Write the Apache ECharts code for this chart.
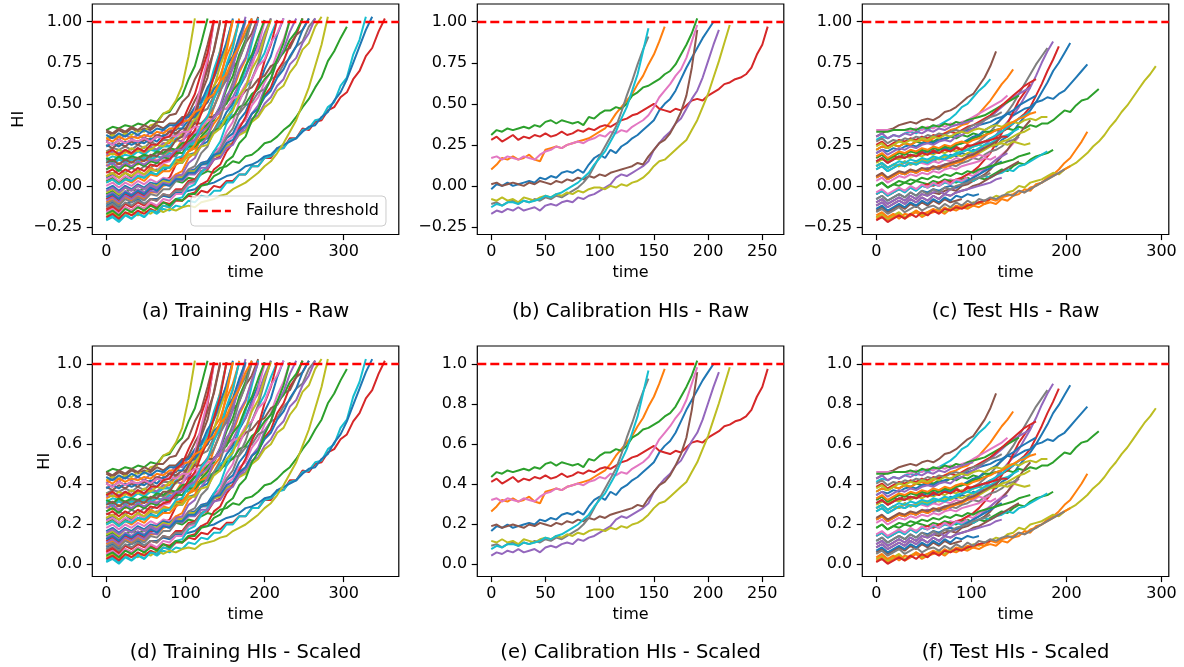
<!DOCTYPE html>
<html>
<head>
<meta charset="utf-8">
<script src="https://cdn.jsdelivr.net/npm/echarts@6/dist/echarts.min.js"></script>
<style>
  html, body { margin: 0; padding: 0; background: #fff; }
  #main { width: 1184px; height: 667px; }
</style>
</head>
<body>
<div id="main"></div>
<script>
// HI curves, in hundredths of HI, one array per unit, sampled every *_STEP time units
const TRAIN_STEP = 8;
const CALIB_STEP = 5;
const TEST_STEP = 6;

const trainHI = [
  [5,7,5,8,5,8,6,9,10,9,12,14,14,19,20,25,27,34,37,45,50,60,67,78,87,101],
  [18,20,18,21,19,22,20,23,22,26,26,31,32,38,40,47,51,61,67,79,88,101],
  [34,36,35,37,36,38,37,40,39,44,45,51,55,65,73,87,102],
  [-15,-13,-16,-13,-15,-12,-14,-11,-13,-10,-11,-8,-9,-6,-7,-3,-4,0,-1,3,3,7,7,12,12,17,17,23,23,29,29,35,34,39,40,46,48,54,57,65,70,79,84,94,102],
  [27,30,28,31,29,31,29,33,30,34,33,38,37,43,45,53,56,66,74,88,101],
  [33,31,34,32,35,33,35,34,37,35,38,38,42,42,47,47,53,55,61,64,72,77,87,93,103],
  [10,12,10,13,11,14,12,15,16,16,19,20,25,26,33,36,43,48,58,65,77,86,100],
  [21,23,22,24,22,25,23,27,25,28,28,32,32,37,38,45,47,55,59,68,74,85,92,102],
  [29,31,30,32,31,34,33,37,38,44,46,52,61,79,102],
  [-20,-18,-21,-17,-20,-16,-19,-15,-17,-14,-15,-12,-13,-9,-10,-6,-7,-3,-3,2,2,7,7,12,12,17,18,22,23,28,29,34,35,40,41,48,51,61,66,80,89,103],
  [-12,-10,-13,-11,-10,-8,-11,-8,-8,-6,-7,-4,-4,-3,-2,1,1,2,4,6,7,9,12,13,15,18,19,23,25,27,29,33,36,37,42,45,52,57,65,75,85,95,103],
  [13,11,14,12,15,13,16,15,18,17,21,22,28,31,39,45,57,67,83,101],
  [-5,-3,-6,-4,-2,-3,-2,0,-1,2,1,3,2,5,4,7,9,8,11,12,15,14,18,19,22,26,27,30,34,37,42,48,53,60,66,76,82,90,97],
  [-8,-6,-9,-5,-7,-4,-6,-2,-2,3,5,13,18,30,40,57,75,101],
  [19,21,20,22,20,23,21,24,22,26,24,28,27,32,31,36,37,43,44,51,54,62,67,76,82,93,102],
  [25,23,26,24,27,25,28,26,30,29,33,34,40,44,52,59,71,82,100],
  [0,2,-1,2,0,3,1,4,2,5,4,7,6,10,10,14,15,20,21,27,30,37,40,49,54,63,70,81,89,101],
  [16,14,17,15,17,16,18,17,20,19,22,21,25,24,28,28,32,33,37,38,43,44,49,51,57,59,65,67,74,78,85,88,97,102],
  [-18,-16,-19,-17,-16,-18,-15,-17,-14,-16,-14,-15,-13,-12,-13,-10,-9,-8,-6,-5,-2,0,2,5,8,12,15,20,26,33,40,50,60,73,86,103],
  [15,13,16,14,16,15,17,16,18,17,20,19,23,22,27,27,32,33,39,41,48,52,60,65,74,81,92,101],
  [-2,0,-3,0,-2,1,-1,2,1,4,3,6,5,9,10,14,15,21,23,29,32,40,45,54,60,71,79,92,102],
  [-10,-8,-11,-7,-9,-6,-8,-4,-4,0,1,7,9,17,20,30,35,48,57,72,84,102],
  [3,5,2,5,3,6,5,8,7,11,11,15,16,21,23,30,34,42,48,59,67,80,89,101],
  [-14,-12,-15,-11,-13,-10,-12,-8,-9,-5,-6,-2,-2,3,4,9,10,16,18,24,26,33,37,44,47,55,60,70,76,86,92,102],
  [-6,-4,-7,-3,-5,-2,-4,0,-2,2,1,5,4,8,8,13,13,18,19,25,26,32,34,41,43,50,54,61,65,74,78,87,93,102],
  [27,25,28,26,28,27,29,28,31,30,33,32,35,35,38,38,42,42,47,47,52,53,58,60,65,67,73,75,82,84,92,95,102],
  [-16,-14,-17,-13,-15,-12,-14,-10,-12,-8,-9,-5,-5,1,2,8,11,19,24,33,39,51,60,73,85,100],
  [9,7,10,8,11,9,12,11,14,14,18,18,23,25,31,34,42,48,58,65,77,87,101],
  [-4,-2,-5,-1,-3,0,-2,1,0,3,2,6,5,9,9,13,14,18,19,24,26,31,33,39,42,48,51,58,61,69,74,83,87,97,103],
  [16,18,17,19,18,21,19,22,21,24,24,29,30,37,40,50,57,71,82,101],
  [31,29,32,30,33,31,34,32,35,34,37,37,41,42,48,51,60,66,77,87,102],
  [6,8,5,8,6,9,7,11,9,13,12,16,16,21,23,29,31,38,43,52,58,69,77,90,101],
  [10,12,9,13,11,14,12,15,14,18,16,20,20,24,24,28,29,34,35,40,42,48,50,56,59,65,69,77,81,89,94,102],
  [-19,-17,-20,-16,-18,-15,-17,-14,-16,-12,-13,-9,-9,-5,-4,1,3,10,13,21,26,35,42,53,62,76,86,101],
  [-9,-7,-10,-6,-8,-5,-7,-3,-4,1,0,6,7,14,17,25,30,41,49,61,72,88,103],
  [34,32,35,33,36,34,37,35,39,39,43,44,51,55,65,72,86,101],
  [4,6,3,6,4,8,6,10,9,14,15,22,26,37,46,62,77,100],
  [-13,-11,-14,-10,-12,-9,-11,-8,-9,-5,-6,-3,-3,2,3,9,11,18,22,30,35,45,53,65,75,89,102],
  [21,19,22,20,23,21,24,22,25,24,28,27,32,34,41,44,53,60,73,84,101],
  [-21,-19,-22,-18,-20,-17,-19,-15,-16,-12,-13,-8,-7,-1,1,8,12,21,27,38,46,60,71,87,102],
  [24,26,24,27,25,27,26,29,27,31,30,35,35,40,42,48,51,59,63,73,79,91,101],
  [2,4,1,4,2,5,3,7,6,9,9,13,15,21,25,34,41,53,64,82,101],
  [17,15,18,16,18,17,19,18,21,20,23,22,26,27,31,32,38,40,47,50,58,63,73,80,91,101],
  [8,10,7,10,8,11,9,13,12,15,16,21,23,29,34,44,53,67,80,101],
  [-3,-1,-4,-1,-3,0,-2,1,-1,2,1,4,3,7,7,11,11,16,17,23,25,32,36,44,49,59,65,76,83,94,102],
  [14,16,13,16,14,17,15,19,18,22,22,28,30,38,44,56,66,83,101],
  [27,25,28,26,28,27,29,27,30,29,31,30,33,33,36,36,40,41,46,47,53,55,62,65,73,77,87,93,102],
  [-11,-9,-12,-8,-10,-7,-9,-5,-6,-2,-2,3,4,10,12,20,24,34,41,53,63,77,87,101],
  [6,8,5,8,6,9,7,10,9,12,11,15,14,19,19,24,25,32,35,42,46,55,60,71,78,91,101],
  [2,4,1,4,3,6,5,8,7,11,11,17,18,25,28,37,42,53,61,74,85,101],
  [-7,-5,-8,-4,-6,-3,-5,-1,-3,1,0,4,4,8,8,13,14,19,20,26,28,34,37,44,47,54,58,66,71,79,85,95,102],
  [29,27,30,28,30,29,31,30,33,32,35,35,39,40,45,47,53,56,64,68,78,85,95,102],
  [-17,-15,-18,-14,-16,-13,-15,-12,-14,-10,-12,-8,-9,-5,-5,0,1,6,8,15,18,26,30,40,46,57,65,77,87,101],
  [20,22,19,22,20,23,21,25,25,29,30,36,39,48,56,69,81,101],
  [12,14,11,14,12,15,13,16,15,18,18,22,22,26,28,33,36,42,46,55,60,71,78,90,101]
];

const calibHI = [
  [-2,1,0,2,0,1,2,3,2,5,4,6,5,8,9,8,10,8,13,17,19,17,22,20,24,26,29,31,34,37,40,46,50,53,58,65,72,78,84,90,95,100],
  [10,13,17,16,18,16,17,19,16,15,22,23,24,23,25,26,27,28,29,31,33,35,39,44,48,52,56,62,67,74,80,88,97],
  [31,34,33,35,34,35,36,35,37,36,39,40,38,40,39,38,39,37,42,41,44,46,46,48,47,50,55,57,60,61,63,65,68,70,74,80,86,93,102],
  [28,30,27,29,31,28,30,29,31,30,32,30,31,33,31,32,34,33,35,34,36,37,36,38,40,41,43,44,46,48,50,47,46,45,47,46,49,52,53,52,55,57,59,62,63,65,66,68,72,80,86,97],
  [-17,-15,-16,-14,-15,-13,-15,-14,-13,-15,-12,-11,-12,-10,-9,-10,-7,-8,-6,-5,-3,-1,1,5,7,6,8,10,12,15,22,26,30,33,38,41,47,53,58,66,76,86,95],
  [1,2,0,1,2,1,0,2,1,3,2,1,3,2,4,3,5,4,6,5,7,6,8,9,10,11,12,14,13,18,22,26,28,32,38,45,55,72,95],
  [17,18,16,18,17,16,18,17,16,19,21,22,24,23,25,26,27,26,28,29,31,30,33,32,34,33,36,38,40,43,48,54,58,62,67,71,78,88,98],
  [-11,-10,-12,-10,-9,-11,-9,-10,-8,-9,-7,-8,-6,-7,-5,-3,-1,2,6,12,18,24,30,36,45,55,64,74,83,91],
  [-8,-9,-7,-9,-8,-10,-7,-8,-9,-7,-6,-7,-5,-6,-4,-5,-3,-4,-2,-1,-1,-2,0,-1,1,0,2,3,5,8,12,15,16,19,22,25,28,34,40,48,56,66,76,87,98],
  [-13,-11,-12,-10,-10,-11,-9,-10,-9,-8,-6,-7,-5,-4,-2,0,2,5,8,13,17,21,27,33,41,48,58,68,82,96]
];

const testHI = [
  [12,14,11,13,12,15,13,14,16,14,16,17,16,19,18,20,19,22,21,24,25,24,28,30,33,38,42,46,51,57,63,70,75,81,87],
  [-20,-18,-21,-19,-17,-20,-18,-16,-19,-17,-16,-15,-17,-14,-15,-13,-14,-12,-13,-11,-10,-11,-8,-9,-6,-5,-2,-3,1,2,5,7,10,14,17,22,27,33],
  [22,24,23,25,24,26,25,27,26,28,27,29,28,30,29,31,30,32,31,33,33,34,33,35,34,36,35,37,36,38,38,40,43,46,45,49,52,53,56,59],
  [17,19,16,18,17,20,18,19,21,19,22,20,23,21,24,22,25,24,26,27,29,30,33,35,38,41,44,48,55,62,70,77,85],
  [5,7,4,6,8,7,9,8,10,11,10,12,13,12,15,16,18,20,22,25,28,31,35,39,43,48,54,60,67,75,82,88],
  [30,32,34,35,37,38,39,38,40,41,40,42,45,46,48,51,54,56,61,66,73,82],
  [-5,-3,-6,-4,-2,-4,-1,-3,0,-1,1,0,2,4,3,5,7,6,9,11,13,16,19,22,26,30],
  [10,12,9,11,13,12,14,13,15,16,15,17,18,17,19,21,22,25,27,30,33,37,41,45,50,56,62,68,74,79,84],
  [-19,-17,-20,-18,-16,-19,-17,-15,-18,-16,-15,-14,-16,-13,-14,-12,-13,-10,-11,-9,-8,-6,-7,-4,-3,0,-1,2,3,4,6,8,7,10,12,14,17,20,24,27,31,36,40,45,49,54,59,64,68,73],
  [28,30,29,31,30,32,33,32,35,34,36,37,39,41,44,48,50,54,58,61,65],
  [20,22,21,23,22,24,25,24,26,27,26,28,29,30,31,33,34,35,37,38,39,41,42,44,43,45,47,48,51,52,54,53,56,58,62,66,70,74],
  [22,24,23,25,24,26,25,27,28,27,29,31,32,34,35,37,38,41,44,48,52,57,62,66,71],
  [0,2,-1,1,0,2,1,3,2,1,3,2,4,3,2,4,5,3,5,4,6,8,10,9,12,14,13,16,18,19,20,22],
  [-5,-3,-6,-4,-2,-3,-1,-2,0,1,0,2,3,2,4,5,7,9,12,16,20,26,32,38,45,52,57,62],
  [20,22,19,21,23,22,24,23,25,26,25,27,28,27,30,31,33,35,37,40,42,45,48,51,54,56,58,60],
  [-10,-8,-11,-9,-7,-9,-6,-8,-5,-6,-4,-5,-3,-2,-3,0,1,3,5,7,10,14,18,22,27,31,36,40],
  [34,34,34,34,34,34,33,35,34,36,35,37,36,38,37,39,40,42,44,46,48,50,52,55],
  [5,7,4,6,8,7,9,8,10,9,11,10,12,13,12,14,15,17,16,19,21,22,24,27,28,30],
  [14,16,15,17,16,18,17,19,18,20,19,21,20,22,21,23,22,24,25,24,26,25,26,25,27,26,25,26],
  [-5,-3,-6,-4,-2,-4,-1,-3,0,-1,1,0,2,1,3,2,4,3,5,6,5,7,8,10,9,12,13,15,17,19,21],
  [15,17,14,16,18,17,19,18,20,21,20,22,23,22,25,26,28,30,31,34,36,38,41,44,46,49,51,53,55],
  [-18,-16,-19,-17,-20,-17,-18,-15,-17,-16,-14,-16,-13,-15,-12,-13,-11,-12,-10,-11,-8,-9,-7,-6,-5,-3,-4,-1,0,2,4,6,8,10,12],
  [33,33,33,34,34,34,35,34,36,35,37,36,38,37,39,38,40,41,42,43,45,47,49,51,53,55],
  [25,27,24,26,28,27,29,28,30,29,31,30,32,33,32,34,36,37,39,41,43,46,49,52,55,58,61,63,65],
  [-10,-8,-11,-9,-7,-9,-6,-8,-5,-6,-4,-3,-5,-2,-1,1,3,5,7,10,13,16,18,20],
  [-12,-10,-13,-11,-9,-11,-8,-10,-7,-9,-6,-8,-5,-6,-4,-3,-2,0,1,3,5,7,9,11,13,15],
  [12,14,11,13,12,14,13,15,14,13,15,14,16,15,17,16,18,17,19,18,20],
  [27,29,26,28,27,29,28,30,29,31,30,32,31,33,34,33,35,37,38,40,42,43,45],
  [12,14,11,13,12,15,13,14,16,15,17,16,18,17,19,18,20,21,20,22,24,25,27,28,30,32,33,35],
  [10,12,9,11,13,12,14,13,15,14,16,17,16,18,19,21,22,24,25,27,29,31,33,36,38,41,43,45],
  [-8,-6,-9,-7,-5,-7,-4,-6,-3,-4,-2,-3,-1,0,-1,1,3,5,7,9,11,13,15],
  [5,7,4,6,8,7,9,8,10,9,11,12,11,13,14,15,17,18,20],
  [17,19,16,18,20,19,21,20,22,21,23,22,24,23,25,26,27,29,30,31,33,34,35],
  [-21,-19,-22,-20,-18,-20,-17,-19,-16,-18,-15,-17,-14,-15,-13,-14,-12,-11,-10,-9,-8],
  [30,32,29,31,30,32,31,33,32,34,33,35,34,36,37,38,39,40],
  [-15,-13,-16,-14,-12,-14,-11,-13,-10,-12,-9,-11,-8,-10,-9,-8],
  [3,5,2,4,6,5,7,6,8,7,9,8,10,11,10,12,13,14,15,17,16,18],
  [-16,-14,-17,-15,-13,-16,-14,-12,-15,-13,-12,-14,-11,-13,-10,-12,-9,-11,-8,-9,-7,-8,-6,-5,-6,-3,-4,-2,0,2,4,6,8,10],
  [24,26,23,25,27,26,28,27,29,28,30,29,31,30,32,33,32,34,35,34,36,37,36,38,39,38,40,41,40,42,42],
  [12,14,11,13,15,14,16,15,17,16,18,17,19,18,20,21,22,21,23,25,26,28,30,31,33,35],
  [-14,-12,-15,-13,-11,-13,-10,-12,-9,-11,-8,-10,-7,-9,-6,-7,-5,-6,-5],
  [18,20,17,19,21,20,22,21,23,22,24,23,25,24,26,27,26,28,29,31,32,34,35,37,39,41,42,44,45],
  [0,2,-1,1,3,2,4,3,5,4,6,5,7,6,8,7,9,8,10,11,12,13,14,15,16,18,19,20],
  [15,17,14,16,18,17,19,18,20,19,21,20,22,21,23,22,24,25,26,27,28,29,30,30],
  [-12,-10,-13,-11,-9,-11,-8,-10,-7,-9,-6,-8,-5,-6,-4,-3,-2,-1,0,1,2,4,5],
  [6,8,5,7,9,8,10,9,11,10,12,11,13,14,15,16,18,19,21,23,25,27,30],
  [-4,-2,-5,-3,-1,-3,0,-2,1,-1,2,0,3,1,4,3,5],
  [-8,-6,-9,-7,-5,-7,-4,-6,-3,-5,-2,-4,-1,-2,0,1,2,4,5,6,8]
];

// axis ticks and ranges
const rawTicks = [-0.25, 0, 0.25, 0.5, 0.75, 1.0];
const scaledTicks = [0, 0.2, 0.4, 0.6, 0.8, 1.0];
const trainTimeTicks = [0, 100, 200, 300];
const calibTimeTicks = [0, 50, 100, 150, 200, 250];
const testTimeTicks = [0, 100, 200, 300];
const trainTimeRange = [-17.6, 369.6];
const calibTimeRange = [-12.85, 269.85];
const testTimeRange = [-14.65, 307.65];
const rawRange = [-0.296, 1.108];
const scaledRange = [-0.0635, 1.09];

// scaler used for the bottom row (raw -> [0, 1])
const RAW_MIN = -0.22;
const RAW_MAX = 1.0;
const FAILURE_THRESHOLD = 1.0;

const titles = [
  '(a) Training HIs - Raw', '(b) Calibration HIs - Raw', '(c) Test HIs - Raw',
  '(d) Training HIs - Scaled', '(e) Calibration HIs - Scaled', '(f) Test HIs - Scaled'
];

const tab10 = ['#1f77b4','#ff7f0e','#2ca02c','#d62728','#9467bd','#8c564b','#e377c2','#7f7f7f','#bcbd22','#17becf'];
const FONT = '"DejaVu Sans", sans-serif';
const PLOT_W = 306.5, PLOT_H = 230.5;
const COL_LEFT = [92.3, 477.3, 862.3];
const ROW_TOP = [4, 346];

const sets = [
  { hi: trainHI, step: TRAIN_STEP, xr: trainTimeRange, xt: trainTimeTicks },
  { hi: calibHI, step: CALIB_STEP, xr: calibTimeRange, xt: calibTimeTicks },
  { hi: testHI, step: TEST_STEP, xr: testTimeRange, xt: testTimeTicks }
];

const toScaled = v => (v - RAW_MIN) / (RAW_MAX - RAW_MIN);
const fmtRaw = v => (v < 0 ? '\u2212' : '') + Math.abs(v).toFixed(2);
const fmtScaled = v => v.toFixed(1);

const grids = [], xAxes = [], yAxes = [], series = [], graphics = [];
const lineDash = [9, 4];

for (let row = 0; row < 2; row++) {
  for (let col = 0; col < 3; col++) {
    const i = row * 3 + col;
    const s = sets[col];
    const scaled = row === 1;
    grids.push({
      left: COL_LEFT[col], top: ROW_TOP[row], width: PLOT_W, height: PLOT_H,
      show: true, borderColor: '#000', borderWidth: 1.2, backgroundColor: 'transparent'
    });
    xAxes.push({
      type: 'value', gridIndex: i, min: s.xr[0], max: s.xr[1],
      name: 'time', nameLocation: 'middle', nameGap: 30,
      nameTextStyle: { fontFamily: FONT, fontSize: 16, color: '#000' },
      axisLine: { show: false, onZero: false },
      axisTick: { show: true, length: 5.6, customValues: s.xt, lineStyle: { color: '#000', width: 1.2 } },
      axisLabel: { customValues: s.xt, margin: 9, fontFamily: FONT, fontSize: 16, color: '#000' },
      splitLine: { show: false }
    });
    const yt = scaled ? scaledTicks : rawTicks;
    const yr = scaled ? scaledRange : rawRange;
    yAxes.push({
      type: 'value', gridIndex: i, min: yr[0], max: yr[1],
      name: col === 0 ? 'HI' : '', nameLocation: 'middle', nameGap: scaled ? 38 : 65,
      nameTextStyle: { fontFamily: FONT, fontSize: 16, color: '#000' },
      axisLine: { show: false, onZero: false },
      axisTick: { show: true, length: 5.6, customValues: yt, lineStyle: { color: '#000', width: 1.2 } },
      axisLabel: { customValues: yt, margin: 10, fontFamily: FONT, fontSize: 16, color: '#000',
        formatter: scaled ? fmtScaled : fmtRaw },
      splitLine: { show: false }
    });
    s.hi.forEach((vals, j) => {
      series.push({
        type: 'line', xAxisIndex: i, yAxisIndex: i, silent: true, animation: false,
        symbol: 'none', lineStyle: { color: tab10[j % 10], width: 2 },
        data: vals.map((v, k) => [k * s.step, scaled ? toScaled(v / 100) : v / 100])
      });
    });
    series.push({
      name: 'Failure threshold', type: 'line', xAxisIndex: i, yAxisIndex: i,
      data: [], symbol: 'none', animation: false, color: '#ff0000',
      lineStyle: { color: '#ff0000', width: 2.4, type: lineDash },
      markLine: {
        silent: true, animation: false, symbol: ['none', 'none'], label: { show: false },
        lineStyle: { color: '#ff0000', width: 2.4, type: lineDash },
        data: [{ yAxis: FAILURE_THRESHOLD }]
      }
    });
    graphics.push({
      type: 'text', x: COL_LEFT[col] + PLOT_W / 2, y: row === 0 ? 311.5 : 653,
      style: { text: titles[i], fill: '#000', font: '19.5px ' + FONT, align: 'center', verticalAlign: 'middle' }
    });
  }
}

const chart = echarts.init(document.getElementById('main'), null, { renderer: 'canvas' });
chart.setOption({
  animation: false,
  backgroundColor: '#fff',
  grid: grids,
  xAxis: xAxes,
  yAxis: yAxes,
  legend: {
    data: ['Failure threshold'], left: 190.7, top: 196, selectedMode: false,
    itemWidth: 32, itemHeight: 14, padding: [7, 7],
    itemStyle: { opacity: 0 },
    lineStyle: { color: '#ff0000', width: 2.4, type: lineDash },
    backgroundColor: 'rgba(255,255,255,0.8)', borderColor: '#cccccc', borderWidth: 1, borderRadius: 4,
    textStyle: { fontFamily: FONT, fontSize: 16, color: '#000', padding: [0, 0, 0, 10] }
  },
  graphic: graphics,
  series: series
});
</script>
</body>
</html>
